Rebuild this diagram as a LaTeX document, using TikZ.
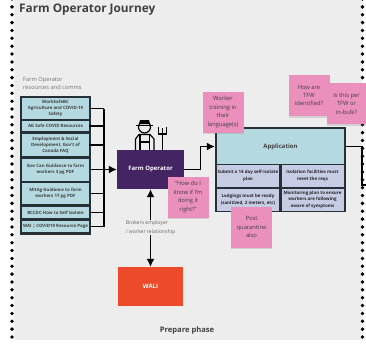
\documentclass[tikz,border=0pt]{standalone}
\usepackage{fontspec}
\setmainfont{Open Sans}
\usetikzlibrary{arrows.meta,positioning,shadows}
\definecolor{pagegrey}{rgb}{0.93, 0.93, 0.93}
\definecolor{boxdark}{rgb}{0.15, 0.19, 0.21}
\definecolor{paleteal}{rgb}{0.71, 0.85, 0.88}
\definecolor{lavender}{rgb}{0.78, 0.80, 0.90}
\definecolor{plumop}{rgb}{0.27, 0.14, 0.39}
\definecolor{stickypink}{rgb}{0.92, 0.56, 0.74}
\definecolor{redwali}{rgb}{0.93, 0.29, 0.17}
\definecolor{inkgrey}{rgb}{0.25, 0.25, 0.25}
\tikzset{
    res/.style={fill=paleteal, inner sep=0pt, minimum width=67pt, align=center, text=inkgrey,
        font=\fontsize{4.4}{6.2}\selectfont\bfseries},
    cell/.style={fill=lavender, inner sep=0pt, minimum width=62pt, minimum height=22pt, align=center,
        text=black!85, font=\fontsize{4.45}{6.4}\selectfont\bfseries},
    sticky/.style={fill=stickypink, inner sep=0pt, minimum width=41pt, minimum height=41pt, align=center,
        text=inkgrey, font=\fontsize{5.8}{8.4}\selectfont,
        drop shadow={opacity=0.25, shadow xshift=0pt, shadow yshift=-1.5pt}},
    wire/.style={draw=black, line width=1.4pt},
    tip/.style={wire, -{Latex[length=8pt,width=8pt]}}
}
\begin{document}
\begin{tikzpicture}[x=1pt, y=-1pt]
    \useasboundingbox (0,0) rectangle (366,346);
    \fill[pagegrey] (14,0) rectangle (362,340);
    \foreach \k in {0,...,43} {
        \fill[black] (12,337-7.86*\k) circle (1.9);
        \fill[black] (362.5,337-7.86*\k) circle (1.9);
    }

    \node[anchor=west, inner sep=0pt, text=inkgrey, font=\fontsize{11.8}{15}\selectfont\bfseries] (title) at (19,10) {Farm Operator Journey};
    \node[anchor=west, inner sep=0pt, align=left, text=black!55, font=\fontsize{5.7}{8}\selectfont] (comms) at (23,83) {Farm Operator\\resources and comms};

    % resources stack
    \node[fill=boxdark, inner sep=0pt, minimum width=71pt, minimum height=139pt] (stack) at (55.5,165) {};
    \node[res, minimum height=21pt] (s1) at (55.5,108.5) {WorkSafeBC\\Agriculture and COVID-19\\Safety};
    \node[res, minimum height=10pt] (s2) at (55.5,126) {AG Safe COVID Resources};
    \node[res, minimum height=22pt] (s3) at (55.5,145) {Employment \& Social\\Development, Gov't of\\Canada FAQ};
    \node[res, minimum height=22pt] (s4) at (55.5,169.5) {Gov Can Guidance to farm\\workers 3 pg PDF};
    \node[res, minimum height=21pt] (s5) at (55.5,193.5) {MItAg Guidance to farm\\workers 17 pg PDF};
    \node[res, minimum height=11pt] (s6) at (55.5,212.5) {BCCDC How to Self Isolate};
    \node[res, minimum height=11pt] (s7) at (55.5,226.5) {WAI | COVID19 Resource Page};

    % main boxes
    \node[fill=plumop, text=white, inner sep=0pt, minimum width=67pt, minimum height=39pt, font=\fontsize{6}{8}\selectfont\bfseries] (op) at (150.5,169.5) {Farm Operator};
    \node[fill=redwali, text=white, inner sep=0pt, minimum width=65pt, minimum height=39pt, font=\fontsize{6}{8}\selectfont\bfseries] (wali) at (150.5,286.5) {WALI};
    \node[inner sep=0pt, align=left, text=black!60, font=\fontsize{5.1}{9}\selectfont] (brokers) at (150.5,227.5) {Brokers employer\\/ worker relationship};

    \node[fill=boxdark, inner sep=0pt, minimum width=131pt, minimum height=85pt] (appbox) at (280.5,169.5) {};
    \node[fill=paleteal, inner sep=0pt, minimum width=127pt, minimum height=35pt, text=inkgrey, font=\fontsize{6}{8}\selectfont\bfseries] (app) at (280.5,146.5) {Application};
    \node[cell] (c1) at (248,176) {Submit a 14 day self-isolate\\plan};
    \node[cell] (c2) at (312.5,176) {Isolation facilities must\\meet the reqs};
    \node[cell] (c3) at (248,199.5) {Lodgings must be ready\\(sanitized, 2 meters, etc)};
    \node[cell] (c4) at (312.5,199.5) {Monitoring plan to ensure\\workers are following\\aware of symptoms};

    % connectors
    \coordinate (bus) at (104,169.5);
    \coordinate (outtop) at (362,146.5);
    \coordinate (outend) at (366,185);
    \draw[wire] (s1.east) -- (s1.east -| bus);
    \draw[wire] (s2.east) -- (s2.east -| bus);
    \draw[wire] (s3.east) -- (s3.east -| bus);
    \draw[wire] (s5.east) -- (s5.east -| bus);
    \draw[wire] (s6.east) -- (s6.east -| bus);
    \draw[wire] (s7.east) -- (s7.east -| bus);
    \draw[wire] (s1.east -| bus) -- (s7.east -| bus);
    \draw[tip] (s4.east) -- (op.west);
    \draw[tip] (op.east) -- ++(16,0) |- (appbox.west |- app.west);
    \draw[tip] (brokers) -- (op);
    \draw[tip] (brokers) -- (wali);
    \draw[wire] (appbox.east |- app.east) -- (outtop) |- (outend);

    % farmer
    \draw[black, line width=1.2pt] (144.5,127) circle (6);
    \fill[black] (136,124.5) rectangle (153,126);
    \fill[black] (139,124) -- (140,120) -- (149,120) -- (150,124) -- cycle;
    \draw[black, line width=1.2pt] (135.5,150) -- (135.5,139) -- (139,134.5) -- (150,134.5) -- (154,139) -- (154,150);
    \draw[black, line width=1.1pt] (140,135) -- (140,150) (149.5,135) -- (149.5,150) (140,142) -- (149.5,142);
    \draw[black, line width=1.3pt] (162.5,128) -- (162.5,150);
    \draw[black, line width=1.3pt] (158.5,127) -- (158.5,134) -- (166.5,134) -- (166.5,127);

    % stickies
    \node[sticky] (n1) at (223,112) {Worker\\training in\\their\\language(s)};
    \node[sticky] (n2) at (309,95.5) {How are\\TFW\\identified?};
    \node[sticky, minimum width=39pt] (n3) at (346.5,103.5) {Is this per\\TFW or\\in-bulk?};
    \node[sticky] (n4) at (188,197) {"How do I\\know if I'm\\doing it\\right?"};
    \node[sticky] (n5) at (251.5,227) {Post\\quarantine\\also};

    \node[inner sep=0pt, text=inkgrey, font=\fontsize{7.6}{9}\selectfont\bfseries] (phase) at (187,331) {Prepare phase};
\end{tikzpicture}
\end{document}
